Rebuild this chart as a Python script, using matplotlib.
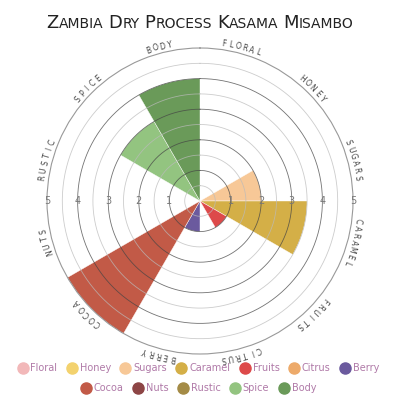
import numpy as np
import matplotlib
matplotlib.use("Agg")
import matplotlib.pyplot as plt
from matplotlib.lines import Line2D

title = "Zambia Dry Process Kasama Misambo"
categories = ["Floral", "Honey", "Sugars", "Caramel", "Fruits", "Citrus",
              "Berry", "Cocoa", "Nuts", "Rustic", "Spice", "Body"]
scores = [0, 0, 2, 3.5, 1, 0, 1, 5, 0, 0, 3, 4]
colors = ["#f2b8b9", "#f3d26e", "#f7c897", "#d4af47", "#dd4a4a", "#edaa6a",
          "#6b5a9e", "#c25a47", "#8d4545", "#a48b46", "#93c480", "#6a9a59"]
ticks = [1, 2, 3, 4, 5]

fig = plt.figure(figsize=(4, 4), dpi=100)
ax = fig.add_axes([0.1175, 0.115, 0.765, 0.765], projection="polar")
ax.set_theta_zero_location("N")
ax.set_theta_direction(-1)

n = len(categories)
width = 2 * np.pi / n
theta = np.arange(n) * width + width / 2
ax.bar(theta, scores, width=width, color=colors, edgecolor="white",
       linewidth=0.3, zorder=2)

# rings every half point, integer ones darker
t = np.linspace(0, 2 * np.pi, 400)
for r in np.arange(0.5, 5, 0.5):
    dark = float(r).is_integer()
    ax.plot(t, np.full_like(t, r), color="#444444" if dark else "#bbbbbb",
            lw=0.6, alpha=0.75, zorder=3)

ax.set_ylim(0, 5)
ax.set_xticks([])
ax.set_yticks([])
ax.grid(False)
ax.spines["polar"].set_color("#999999")
ax.spines["polar"].set_linewidth(0.8)

for v in ticks:
    for a in (np.pi / 2, 3 * np.pi / 2):
        ax.text(a, v, str(v), ha="center", va="center", fontsize=7,
                color="#777777", zorder=4)

# curved category labels around the rim
step = 2.6
for c, name in zip(np.degrees(theta), categories):
    letters = name.upper()
    start = c - step * (len(letters) - 1) / 2
    for k, ch in enumerate(letters):
        ang = start + k * step
        ax.text(np.radians(ang), 5.2, ch, rotation=-ang, rotation_mode="anchor",
                ha="center", va="center", fontsize=5.5, color="#444444",
                clip_on=False)

# small caps title
renderer = fig.canvas.get_renderer()
pieces = []
for i, word in enumerate(title.split()):
    pieces.append((word[0].upper(), 13, i > 0))
    pieces.append((word[1:].upper(), 10, False))
fam = ["Liberation Sans Narrow", "DejaVu Sans"]
widths = []
for s, size, _ in pieces:
    tt = fig.text(0, 0, s, fontsize=size, family=fam)
    widths.append(tt.get_window_extent(renderer).width)
    tt.remove()
gap = 5
total = sum(widths) + gap * sum(p[2] for p in pieces)
x = 200 - total / 2
for (s, size, sp), w in zip(pieces, widths):
    if sp:
        x += gap
    fig.text(x / 400, 1 - 28 / 400, s, fontsize=size, family=fam,
             color="#222222", va="baseline", ha="left")
    x += w

# two centred legend rows (fig.legend keeps both)
handles = [Line2D([], [], marker="o", ls="", markersize=8, mfc=c, mec=c)
           for c in colors]
leg_kw = dict(loc="center", frameon=False, fontsize=7, handletextpad=0.2,
              columnspacing=0.9, handlelength=1.2, labelcolor="#b07aa8")
fig.legend(handles[:7], categories[:7], bbox_to_anchor=(0.495, 0.08),
           ncol=7, **leg_kw)
fig.legend(handles[7:], categories[7:], bbox_to_anchor=(0.495, 0.03),
           ncol=5, **leg_kw)

fig.savefig("out.png", dpi=100)
